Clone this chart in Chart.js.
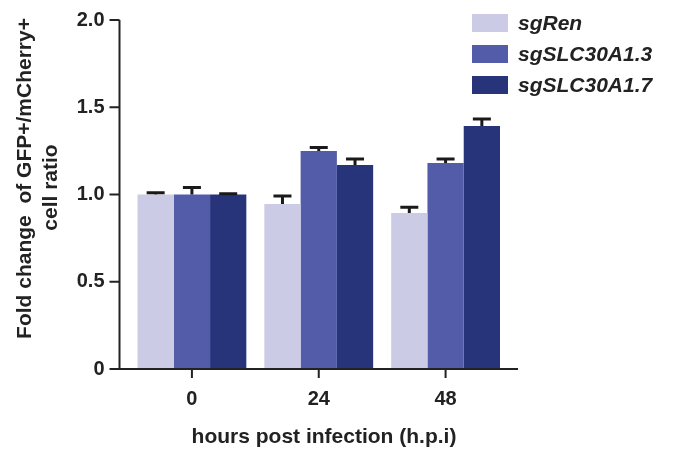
<!DOCTYPE html>
<html>
<head>
<meta charset="utf-8">
<script src="https://cdn.jsdelivr.net/npm/chart.js@4.4.0/dist/chart.umd.min.js"></script>
<style>
  html, body { margin: 0; padding: 0; background: #fff; }
  #wrap { position: relative; width: 673px; height: 451px; }
  #legend { position: absolute; left: 472px; top: 7.5px; font: italic bold 21px "Liberation Sans", Arial, sans-serif; color: #222; }
  .item { display: flex; align-items: center; height: 31px; white-space: nowrap; }
  .swatch { width: 36px; height: 18px; margin-right: 10px; }
</style>
</head>
<body>
<div id="wrap">
  <canvas id="foldChart" width="673" height="451"></canvas>
  <div id="legend"></div>
</div>
<script>
// data
const categories = ['0', '24', '48'];
const seriesNames = ['sgRen', 'sgSLC30A1.3', 'sgSLC30A1.7'];
const sgRen = [1.0, 0.946, 0.894];
const sgRenErr = [0.01, 0.045, 0.033];
const sgSLC13 = [1.0, 1.249, 1.181];
const sgSLC13Err = [0.04, 0.021, 0.022];
const sgSLC17 = [1.0, 1.169, 1.393];
const sgSLC17Err = [0.005, 0.034, 0.04];
const colors = ['#cccbe6', '#525ca8', '#27347a'];
const yMin = 0, yMax = 2.0, yStep = 0.5;
const xTitle = 'hours post infection (h.p.i)';
const yTitle = ['Fold change  of GFP+/mCherry+', 'cell ratio'];

const values = [sgRen, sgSLC13, sgSLC17];
const errors = [sgRenErr, sgSLC13Err, sgSLC17Err];
const ink = '#222';
const font = '"Liberation Sans", Arial, Helvetica, sans-serif';

// axes in the Prism style: y axis sits a little left of the bars
const axesPlugin = {
  id: 'axesPlugin',
  afterDatasetsDraw(chart) {
    const ctx = chart.ctx;
    const area = chart.chartArea;
    const ys = chart.scales.y;
    const xs = chart.scales.x;
    ctx.save();
    // error bars (upper half only)
    ctx.strokeStyle = '#1a1a1a';
    ctx.lineWidth = 3;
    values.forEach((vals, i) => {
      const meta = chart.getDatasetMeta(i);
      meta.data.forEach((bar, j) => {
        const top = ys.getPixelForValue(vals[j] + errors[i][j]);
        ctx.beginPath();
        ctx.moveTo(bar.x, bar.y);
        ctx.lineTo(bar.x, top);
        ctx.moveTo(bar.x - 9, top);
        ctx.lineTo(bar.x + 9, top);
        ctx.stroke();
      });
    });

    const axisX = area.left - 9;
    ctx.strokeStyle = ink;
    ctx.lineWidth = 2;
    ctx.beginPath();
    ctx.moveTo(axisX, ys.getPixelForValue(yMax));
    ctx.lineTo(axisX, area.bottom + 1);
    ctx.moveTo(axisX, area.bottom);
    ctx.lineTo(area.right + 9, area.bottom);
    for (let v = yMin; v <= yMax + 1e-9; v += yStep) {
      const py = ys.getPixelForValue(v);
      ctx.moveTo(axisX - 10, py);
      ctx.lineTo(axisX, py);
    }
    categories.forEach((c, i) => {
      const px = xs.getPixelForValue(i);
      ctx.moveTo(px, area.bottom);
      ctx.lineTo(px, area.bottom + 9);
    });
    ctx.stroke();

    // axis titles
    ctx.fillStyle = ink;
    ctx.font = 'bold 21px ' + font;
    ctx.textAlign = 'center';
    ctx.textBaseline = 'alphabetic';
    ctx.fillText(xTitle, 324, 443);
    ctx.rotate(-Math.PI / 2);
    ctx.fillText(yTitle[0], -178.5, 30.5);
    ctx.fillText(yTitle[1], -187.5, 57);
    ctx.restore();
  }
};

const ctx = document.getElementById('foldChart').getContext('2d');
const foldChart = new Chart(ctx, {
  type: 'bar',
  data: {
    labels: categories,
    datasets: seriesNames.map((name, i) => ({
      label: name,
      data: values[i],
      backgroundColor: colors[i],
      borderWidth: 0
    }))
  },
  options: {
    responsive: false,
    animation: false,
    devicePixelRatio: 1,
    categoryPercentage: 0.858,
    barPercentage: 1.0,
    layout: { padding: { top: 20, right: 164, bottom: 0, left: 0 } },
    plugins: {
      legend: { display: false },
      tooltip: { enabled: false }
    },
    scales: {
      x: {
        grid: { display: false, drawTicks: false },
        border: { display: false },
        ticks: { color: ink, font: { family: font, size: 20, weight: 'bold' }, padding: 18 },
        afterFit: (s) => { s.height = 82; s.paddingLeft = 0; s.paddingRight = 0; }
      },
      y: {
        min: yMin,
        max: yMax,
        grid: { display: false, drawTicks: false },
        border: { display: false },
        ticks: {
          stepSize: yStep,
          color: ink,
          font: { family: font, size: 20, weight: 'bold' },
          padding: 24,
          callback: (v) => v === 0 ? '0' : v.toFixed(1)
        },
        afterFit: (s) => { s.width = 128.5; s.paddingTop = 0; s.paddingBottom = 0; }
      }
    }
  },
  plugins: [axesPlugin]
});

// legend as html, built from the same arrays
const legend = document.getElementById('legend');
seriesNames.forEach((name, i) => {
  const item = document.createElement('div');
  item.className = 'item';
  const sw = document.createElement('span');
  sw.className = 'swatch';
  sw.style.background = colors[i];
  const label = document.createElement('span');
  label.textContent = name;
  item.appendChild(sw);
  item.appendChild(label);
  legend.appendChild(item);
});
</script>
</body>
</html>
